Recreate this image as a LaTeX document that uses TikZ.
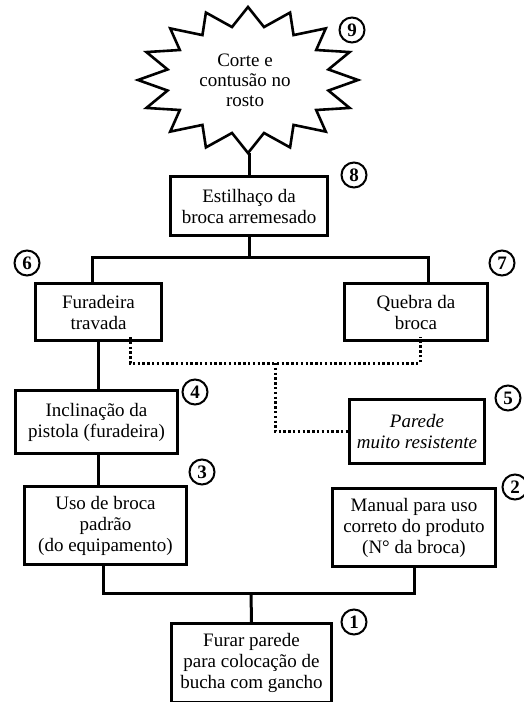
\documentclass[tikz,border=0pt]{standalone}
\usepackage{fontspec}
\setmainfont{Liberation Serif}

\begin{document}
\begin{tikzpicture}[x=1pt, y=-1pt]
            % Styles
            \tikzstyle{box} = [rectangle, draw=black, line width=3pt, fill=white, align=center, inner sep=0pt, font=\fontsize{19}{21}\selectfont]
            \tikzstyle{num} = [circle, draw=black, line width=2pt, fill=white, minimum size=25pt, inner sep=0pt, font=\fontsize{19}{19}\selectfont\bfseries]
            \tikzstyle{link} = [line width=3pt, black]
            \tikzstyle{dotlink} = [line width=3pt, black, dash pattern=on 2.4pt off 2.4pt]

            \useasboundingbox (0,0) rectangle (523,702);

            % Burst - drawn as a path
            \draw[line width=2.6pt, fill=white] (248,7)
                \foreach \i in {1,...,16} {
                    -- ({248+82*sin((2*\i-1)*11.25)}, {80-54*cos((2*\i-1)*11.25)})
                    -- ({248+110*sin(\i*22.5)}, {80-73*cos(\i*22.5)})
                } -- cycle;
            \node[align=center, font=\fontsize{19}{20}\selectfont] (burst) at (245,80) {Corte e\\contusão no\\rosto};
            \coordinate (burstbot) at (249,153);

            % Nodes - explicit coordinates
            \node[box, minimum width=157pt, minimum height=59pt] (n8) at (249,206) {Estilhaço da\\broca arremesado};
            \node[box, minimum width=126pt, minimum height=57pt] (n6) at (98.5,312) {Furadeira\\travada};
            \node[box, minimum width=143pt, minimum height=57pt] (n7) at (416,312) {Quebra da\\broca};
            \node[box, minimum width=162pt, minimum height=63pt] (n4) at (96.5,422) {Inclinação da\\pistola (furadeira)};
            \node[box, minimum width=135pt, minimum height=64pt] (n5) at (417,431.5) {\textit{Parede}\\\textit{muito resistente}};
            \node[box, minimum width=162pt, minimum height=78pt] (n3) at (105.5,525.5) {Uso de broca\\padrão\\(do equipamento)};
            \node[box, minimum width=163pt, minimum height=78pt] (n2) at (414,527.5) {Manual para uso\\correto do produto\\(N° da broca)};
            \node[box, minimum width=160pt, minimum height=79pt] (n1) at (251.5,663) {Furar parede\\para colocação de\\bucha com gancho};

            % Numbers
            \node[num] (c9) at (352,30) {9};
            \node[num] (c8) at (354,175) {8};
            \node[num] (c6) at (27,263) {6};
            \node[num] (c7) at (502,263) {7};
            \node[num] (c4) at (195,392) {4};
            \node[num] (c5) at (508,398) {5};
            \node[num] (c3) at (202,472) {3};
            \node[num] (c2) at (515,487) {2};
            \node[num] (c1) at (354,622) {1};

            % Junctions
            \coordinate (j8) at (249,257);
            \coordinate (j5) at (275,363);
            \coordinate (j1) at (251,593);

            % Lines
            \draw[link] (burstbot) -- (n8.north);
            \draw[link] (n8.south) -- (j8);
            \draw[link] ([xshift=-6pt]n6.north) |- (j8) -| ([xshift=12pt]n7.north);
            \draw[link] (n6.south) -- (n6.south |- n4.north);
            \draw[link] ([xshift=2pt]n4.south) -- ([xshift=2pt]n4.south |- n3.north);
            \draw[link] ([xshift=-2pt]n3.south) |- (j1) -| (n2.south);
            \draw[link] (j1) -- (n1.north);
            \draw[dotlink] ([xshift=-33pt, yshift=5pt]n6.south east) |- (j5) -| ([xshift=4pt, yshift=5pt]n7.south);
            \draw[dotlink] (j5) |- (n5.west);
        \end{tikzpicture}
\end{document}
